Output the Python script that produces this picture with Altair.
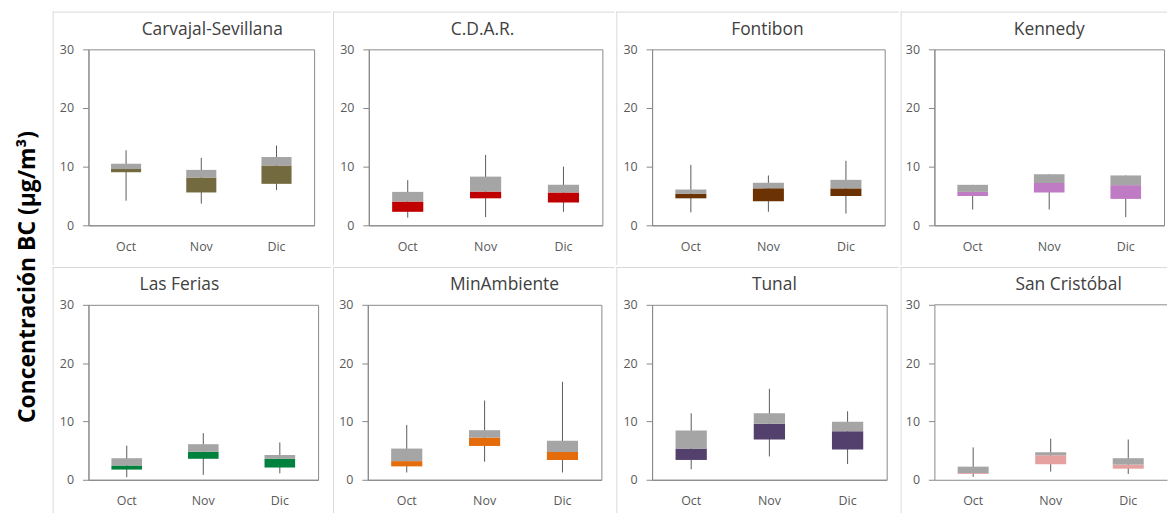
import altair as alt
import pandas as pd

# ---------------- data ----------------
stations = ["Carvajal-Sevillana", "C.D.A.R.", "Fontibon", "Kennedy",
            "Las Ferias", "MinAmbiente", "Tunal", "San Cristóbal"]
months = ["Oct", "Nov", "Dic"]
station_colors = ["#746A3F", "#C00000", "#6B3304", "#C07BC5",
                  "#00813D", "#E46C0A", "#54406C", "#E5A0A0"]

whisker_low = [[4.2, 3.7, 6.0], [1.3, 1.4, 2.3], [2.2, 2.3, 2.0], [2.7, 2.7, 1.4],
               [0.45, 0.85, 1.1], [1.25, 3.1, 1.25], [1.8, 4.0, 2.7], [0.5, 1.4, 1.0]]
q1 = [[9.05, 5.6, 7.07], [2.3, 4.6, 3.9], [4.6, 4.1, 5.0], [5.0, 5.6, 4.5],
      [1.75, 3.6, 2.1], [2.3, 5.8, 3.4], [3.4, 6.9, 5.2], [1.0, 2.65, 1.9]]
median = [[9.6, 8.15, 10.2], [4.05, 5.75, 5.6], [5.4, 6.3, 6.3], [5.7, 7.2, 6.85],
          [2.45, 4.8, 3.6], [3.2, 7.25, 4.75], [5.35, 9.6, 8.3], [1.15, 4.2, 2.6]]
q3 = [[10.5, 9.45, 11.65], [5.7, 8.3, 6.9], [6.1, 7.25, 7.75], [6.9, 8.7, 8.5],
      [3.7, 6.1, 4.25], [5.35, 8.5, 6.7], [8.45, 11.4, 9.95], [2.25, 4.7, 3.7]]
whisker_high = [[12.8, 11.5, 13.6], [7.7, 12.0, 10.0], [10.3, 8.5, 11.0], [6.9, 8.7, 8.5],
                [5.85, 8.0, 6.4], [9.4, 13.6, 16.8], [11.4, 15.6, 11.75], [5.55, 7.05, 6.9]]

y_ticks = [0, 10, 20, 30]
y_title = "Concentración BC (µg/m³)"

# ---------------- styling ----------------
FONT = "Open Sans"
BORDER = "#D9D9D9"
AXIS = "#898989"
LABEL = "#595959"
TITLE = "#404040"
WHISKER = "#5A5A5A"
GRAY = "#A5A5A5"

one = alt.InlineData(values=[{"k": 0}])

# panel geometry: plot width, height, left/right/top/bottom room, title dx
geom = [
    (227, 177, 36, 17, 38, 40, 11),
    (235, 177, 36, 12, 38, 40, -3),
    (234, 177, 36, 14, 38, 40, -1),
    (231, 177, 34, 3, 38, 40, 0),
    (231, 176, 36, 13, 38, 34, -24),
    (235, 176, 35, 13, 38, 34, 20),
    (236, 176, 36, 12, 38, 34, 5),
    (234, 176, 34, 0, 38, 34, 18),
]


def panel(i):
    w, h, L, R, T, B, dx = geom[i]
    df = pd.DataFrame({
        "month": months,
        "low": whisker_low[i],
        "q1": q1[i],
        "med": median[i],
        "q3": q3[i],
        "high": whisker_high[i],
    })
    base = alt.Chart(df)
    x = alt.X("month:N", sort=months,
              scale=alt.Scale(domain=months, paddingInner=0, paddingOuter=0),
              axis=alt.Axis(title=None, labelAngle=0, ticks=False, tickSize=0,
                            labelPadding=15, labelColor=LABEL, labelFontSize=12.5,
                            labelFont=FONT, domainColor=AXIS))
    ysc = alt.Scale(domain=[0, 30], nice=False)
    yax = alt.Axis(title=None, values=y_ticks, grid=False, tickColor=AXIS,
                   tickSize=6, labelPadding=9, domainColor=AXIS,
                   labelColor=LABEL, labelFontSize=12.5, labelFont=FONT)

    bounds = alt.Chart(one).mark_rect(fill="transparent").encode(
        x=alt.value(-L), x2=alt.value(w + R), y=alt.value(-T), y2=alt.value(h + B))
    top_line = alt.Chart(one).mark_rule(color=BORDER, strokeWidth=1).encode(
        x=alt.value(-L), x2=alt.value(w + R), y=alt.value(-T + 0.5))
    left_line = alt.Chart(one).mark_rule(color=BORDER, strokeWidth=1).encode(
        x=alt.value(-L + 0.5), y=alt.value(-T), y2=alt.value(h + B))
    title = alt.Chart(one).mark_text(
        text=stations[i], fontSize=17.5, font=FONT, color=TITLE,
        align="center", baseline="middle").encode(
        x=alt.value(w / 2 + dx), y=alt.value(-19.5))

    whisk = base.mark_rule(color=WHISKER, strokeWidth=1).encode(
        x=x, y=alt.Y("low:Q", scale=ysc, axis=yax), y2="high:Q")
    lower = base.mark_bar(color=station_colors[i], width=alt.RelativeBandSize(0.4)).encode(
        x=x, y=alt.Y("q1:Q", scale=ysc, axis=yax), y2="med:Q")
    upper = base.mark_bar(color=GRAY, width=alt.RelativeBandSize(0.4)).encode(
        x=x, y=alt.Y("med:Q", scale=ysc, axis=yax), y2="q3:Q")

    layers = [bounds, top_line, left_line, title, whisk, lower, upper]
    props = dict(width=w, height=h)
    if i == 7:
        frame_top = alt.Chart(one).mark_rule(color=AXIS, strokeWidth=1).encode(
            x=alt.value(0), x2=alt.value(w + R), y=alt.value(0))
        layers.append(frame_top)
        props["view"] = alt.ViewBackground(stroke=None)
    return alt.layer(*layers).properties(**props)


row1 = alt.hconcat(*[panel(i) for i in range(4)], spacing=0)
row2 = alt.hconcat(*[panel(i) for i in range(4, 8)], spacing=0)
grid = alt.vconcat(row1, row2, spacing=0)

ytitle = alt.Chart(one).mark_text(
    text=y_title, angle=270, fontSize=23, fontWeight="bold", font=FONT,
    color="#000000", align="center", baseline="middle"
).encode(x=alt.value(28), y=alt.value(229)).properties(
    width=52, height=503, view=alt.ViewBackground(stroke=None))

chart = alt.hconcat(ytitle, grid, spacing=0).properties(
    padding={"left": 0, "right": 0, "top": 9, "bottom": 0},
    background="#FFFFFF",
).configure_view(stroke=AXIS, strokeWidth=1).configure_concat(spacing=0)

chart.save("out.html", embed_options={"renderer": "svg", "actions": False})
